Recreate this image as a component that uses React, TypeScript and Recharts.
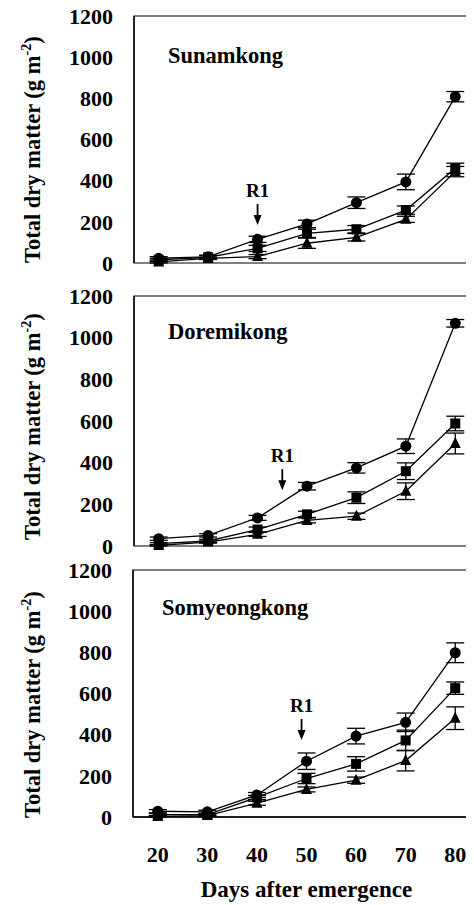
import React from 'react';
import { LineChart, Line, XAxis, YAxis, ErrorBar, ReferenceArea, ReferenceDot } from 'recharts';

const days = [20, 30, 40, 50, 60, 70, 80];
const yTicks = [0, 200, 400, 600, 800, 1000, 1200];
const xLabelTicks = [20, 30, 40, 50, 60, 70, 80];
const xMarkTicks = [25, 35, 45, 55, 65, 75];

// Sunamkong
const sunamCircle = [23, 30, 115, 190, 293, 394, 808];
const sunamCircleErr = [8, 8, 15, 18, 28, 38, 25];
const sunamSquare = [15, 28, 71, 144, 164, 257, 460];
const sunamSquareErr = [8, 8, 15, 20, 18, 20, 25];
const sunamTri = [5, 22, 31, 96, 125, 212, 444];
const sunamTriErr = [5, 5, 10, 25, 18, 15, 25];

// Doremikong
const doreCircle = [35, 51, 135, 287, 375, 479, 1069];
const doreCircleErr = [8, 8, 12, 18, 25, 35, 18];
const doreSquare = [11, 24, 79, 152, 232, 359, 588];
const doreSquareErr = [5, 8, 12, 15, 28, 40, 35];
const doreTri = [3, 19, 56, 123, 143, 263, 492];
const doreTriErr = [3, 5, 10, 12, 15, 40, 50];

// Somyeongkong
const somCircle = [28, 25, 107, 271, 393, 460, 798];
const somCircleErr = [8, 8, 12, 40, 38, 45, 48];
const somSquare = [12, 12, 95, 187, 258, 372, 626];
const somSquareErr = [5, 5, 10, 25, 35, 50, 30];
const somTri = [3, 7, 67, 134, 179, 274, 480];
const somTriErr = [3, 3, 10, 12, 15, 50, 55];

const titles = ['Sunamkong', 'Doremikong', 'Somyeongkong'];
const r1Days = [40, 45, 49];
const r1Tips = [185, 268, 374];

const FONT = 'Liberation Serif';

const CircleDot = (p: any) =>
  p.cx == null ? null : <circle key={p.index} cx={p.cx} cy={p.cy} r={5.5} fill="#000" />;
const SquareDot = (p: any) =>
  p.cx == null ? null : <rect key={p.index} x={p.cx - 5} y={p.cy - 5} width={10} height={10} fill="#000" />;
const TriDot = (p: any) =>
  p.cx == null ? null : (
    <polygon
      key={p.index}
      points={`${p.cx},${p.cy - 6.5} ${p.cx + 5.5},${p.cy + 4.5} ${p.cx - 5.5},${p.cy + 4.5}`}
      fill="#000"
    />
  );

const R1Marker = (p: any) => {
  const { cx, cy } = p;
  if (cx == null) return null;
  return (
    <g>
      <text x={cx} y={cy - 28} textAnchor="middle" fontFamily={FONT} fontWeight={700} fontSize={19} fill="#000">
        R1
      </text>
      <line x1={cx} y1={cy - 21} x2={cx} y2={cy - 8} stroke="#000" strokeWidth={1.8} />
      <polygon points={`${cx - 4},${cy - 10} ${cx + 4},${cy - 10} ${cx},${cy}`} fill="#000" />
    </g>
  );
};

type PanelProps = {
  idx: number;
  circle: number[];
  circleErr: number[];
  square: number[];
  squareErr: number[];
  tri: number[];
  triErr: number[];
  plotH: number;
  plotLeft: number;
  showX: boolean;
  mt: number;
  mb: number;
  yLabelShift: number;
  titleDx: number;
  titleDy: number;
};

const CHART_W = 474;
const PLOT_RIGHT = 480;

const Panel = (props: PanelProps) => {
  const { idx, circle, circleErr, square, squareErr, tri, triErr, plotH, plotLeft, showX, mt, mb, yLabelShift, titleDx, titleDy } = props;
  const data = days.map((d, i) => ({
    day: d,
    c: circle[i],
    ce: circleErr[i],
    s: square[i],
    se: squareErr[i],
    t: tri[i],
    te: triErr[i],
  }));
  const xH = showX ? 88 : 0;
  const height = mt + plotH + mb + xH;

  const YLabel = (lp: any) => {
    const vb = lp.viewBox || {};
    const x = 40;
    const y = vb.y + vb.height + yLabelShift;
    return (
      <text
        x={x}
        y={y}
        transform={`rotate(-90 ${x} ${y})`}
        textAnchor="start"
        fontFamily={FONT}
        fontWeight={700}
        fontSize={22.5}
        fill="#000"
      >
        Total dry matter (g m
        <tspan dy={-9} fontSize={14}>-2</tspan>
        <tspan dy={9}>)</tspan>
      </text>
    );
  };

  const TitleLabel = (lp: any) => {
    const vb = lp.viewBox || {};
    return (
      <text x={vb.x + titleDx} y={vb.y + titleDy} textAnchor="start" fontFamily={FONT} fontWeight={700} fontSize={22.5} fill="#000">
        {titles[idx]}
      </text>
    );
  };

  const XLabel = (lp: any) => {
    const vb = lp.viewBox || {};
    return (
      <text x={plotLeft + (PLOT_RIGHT - plotLeft) / 2} y={vb.y + 80} textAnchor="middle" fontFamily={FONT} fontWeight={700} fontSize={23} fill="#000">
        Days after emergence
      </text>
    );
  };

  const tickStyle = { fontFamily: FONT, fontWeight: 700, fontSize: 22, fill: '#000' };

  return (
    <LineChart
      width={CHART_W}
      height={height}
      data={data}
      margin={{ top: mt, right: CHART_W - PLOT_RIGHT, left: 0, bottom: mb }}
      style={{ display: 'block', fontFamily: FONT }}
    >
      <XAxis
        xAxisId="x"
        dataKey="day"
        type="number"
        domain={[15, 85]}
        allowDataOverflow
        ticks={xLabelTicks}
        interval={0}
        tick={showX ? tickStyle : false}
        tickLine={false}
        tickSize={0}
        tickMargin={29}
        axisLine={{ stroke: '#000', strokeWidth: 1.3 }}
        height={xH}
        label={showX ? { content: XLabel } : undefined}
      />
      <XAxis
        xAxisId="t"
        dataKey="day"
        type="number"
        domain={[15, 85]}
        allowDataOverflow
        ticks={xMarkTicks}
        interval={0}
        tick={false}
        tickSize={-7}
        tickLine={{ stroke: '#000', strokeWidth: 1.3 }}
        axisLine={false}
        height={0}
      />
      <YAxis
        type="number"
        domain={[0, 1200]}
        ticks={yTicks}
        interval={0}
        width={plotLeft}
        tickLine={false}
        tickSize={0}
        tickMargin={21}
        axisLine={{ stroke: '#000', strokeWidth: 1.3 }}
        tick={tickStyle}
        label={{ content: YLabel }}
      />
      <ReferenceArea
        xAxisId="x"
        x1={15}
        x2={85}
        y1={0}
        y2={1200}
        fill="none"
        fillOpacity={0}
        stroke="#000"
        strokeWidth={1.2}
        ifOverflow="visible"
        label={{ content: TitleLabel }}
      />
      <Line xAxisId="x" dataKey="c" type="linear" stroke="#000" strokeWidth={1.3} dot={CircleDot} activeDot={false} isAnimationActive={false}>
        <ErrorBar dataKey="ce" width={9} stroke="#000" strokeWidth={1.3} isAnimationActive={false} />
      </Line>
      <Line xAxisId="x" dataKey="s" type="linear" stroke="#000" strokeWidth={1.3} dot={SquareDot} activeDot={false} isAnimationActive={false}>
        <ErrorBar dataKey="se" width={9} stroke="#000" strokeWidth={1.3} isAnimationActive={false} />
      </Line>
      <Line xAxisId="x" dataKey="t" type="linear" stroke="#000" strokeWidth={1.3} dot={TriDot} activeDot={false} isAnimationActive={false}>
        <ErrorBar dataKey="te" width={9} stroke="#000" strokeWidth={1.3} isAnimationActive={false} />
      </Line>
      <ReferenceDot xAxisId="x" x={r1Days[idx]} y={r1Tips[idx]} r={0} shape={R1Marker} ifOverflow="visible" />
    </LineChart>
  );
};

export default function App() {
  return (
    <div style={{ marginTop: -8, marginLeft: -8, width: CHART_W, fontFamily: FONT }}>
      <Panel
        idx={0}
        circle={sunamCircle}
        circleErr={sunamCircleErr}
        square={sunamSquare}
        squareErr={sunamSquareErr}
        tri={sunamTri}
        triErr={sunamTriErr}
        plotH={247}
        plotLeft={134}
        showX={false}
        mt={16}
        mb={16}
        yLabelShift={0}
        titleDx={34}
        titleDy={47}
      />
      <Panel
        idx={1}
        circle={doreCircle}
        circleErr={doreCircleErr}
        square={doreSquare}
        squareErr={doreSquareErr}
        tri={doreTri}
        triErr={doreTriErr}
        plotH={250}
        plotLeft={134}
        showX={false}
        mt={17}
        mb={12}
        yLabelShift={-6}
        titleDx={34}
        titleDy={43}
      />
      <Panel
        idx={2}
        circle={somCircle}
        circleErr={somCircleErr}
        square={somSquare}
        squareErr={somSquareErr}
        tri={somTri}
        triErr={somTriErr}
        plotH={247}
        plotLeft={133}
        showX={true}
        mt={12}
        mb={0}
        yLabelShift={1}
        titleDx={29}
        titleDy={45}
      />
    </div>
  );
}
